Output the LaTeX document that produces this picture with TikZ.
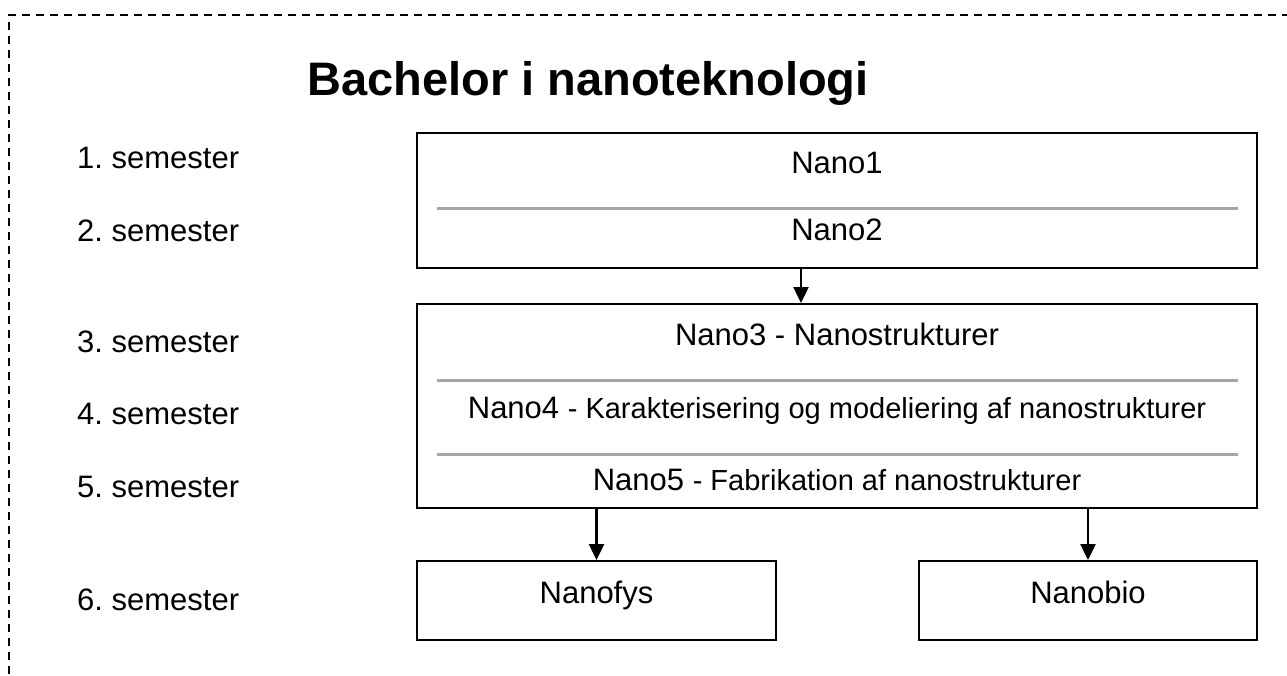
\documentclass[tikz,border=0pt]{standalone}
\usepackage{fontspec}
\setmainfont{Liberation Sans}
\usetikzlibrary{arrows.meta}
\frenchspacing
\begin{document}
\begin{tikzpicture}[x=1pt,y=-1pt,
  box/.style={draw, line width=1.9pt, inner sep=0pt},
  lbl/.style={anchor=base west, inner sep=0pt, font=\fontsize{31}{37}\selectfont},
  txt/.style={anchor=base, inner sep=0pt, font=\fontsize{31}{37}\selectfont},
  sep/.style={line width=3pt, draw=gray!70},
  arr/.style={line width=2.2pt, -{Triangle[length=16pt,width=15pt]}},
  border/.style={line width=2pt, dash pattern=on 8pt off 6pt}
  ]
\useasboundingbox (0,0) rectangle (1287,675);
\draw[border] (1290,15) -- (9,15) -- (9,680);

\node[anchor=base, inner sep=0pt, font=\bfseries\fontsize{47}{56}\selectfont] (title) at (588,95) {Bachelor i nanoteknologi};

\node[lbl] (s1) at (77,168) {1. semester};
\node[lbl] (s2) at (77,241) {2. semester};
\node[lbl] (s3) at (77,352) {3. semester};
\node[lbl] (s4) at (77,424) {4. semester};
\node[lbl] (s5) at (77,497) {5. semester};
\node[lbl] (s6) at (77,610) {6. semester};

\node[box, minimum width=840pt, minimum height=135pt] (b1) at (837,200.5) {};
\node[box, minimum width=840pt, minimum height=204pt] (b2) at (837,406) {};
\node[box, minimum width=359pt, minimum height=79pt] (nf) at (596.5,600.5) {};
\node[box, minimum width=338pt, minimum height=79pt] (nb) at (1088,600.5) {};

\draw[sep] (437,208) -- (1238,208);
\draw[sep] (437,380) -- (1238,380);
\draw[sep] (437,454) -- (1238,454);

\node[txt] (n1) at (837,173) {Nano1};
\node[txt] (n2) at (837,240) {Nano2};
\node[txt] (n3) at (837,345) {Nano3 - Nanostrukturer};
\node[txt] (n4) at (837,418) {Nano4 {\fontsize{29}{35}\selectfont - Karakterisering og modeliering af nanostrukturer}};
\node[txt] (n5) at (837,490) {Nano5 {\fontsize{29}{35}\selectfont - Fabrikation af nanostrukturer}};
\node[txt] (tf) at (596.5,603) {Nanofys};
\node[txt] (tb) at (1088,603) {Nanobio};

\coordinate (a1) at (801,0);
\draw[arr] (b1.south -| a1) -- (b2.north -| a1);
\draw[arr] (b2.south -| nf.north) -- (nf.north);
\draw[arr] (b2.south -| nb.north) -- (nb.north);
\end{tikzpicture}
\end{document}
